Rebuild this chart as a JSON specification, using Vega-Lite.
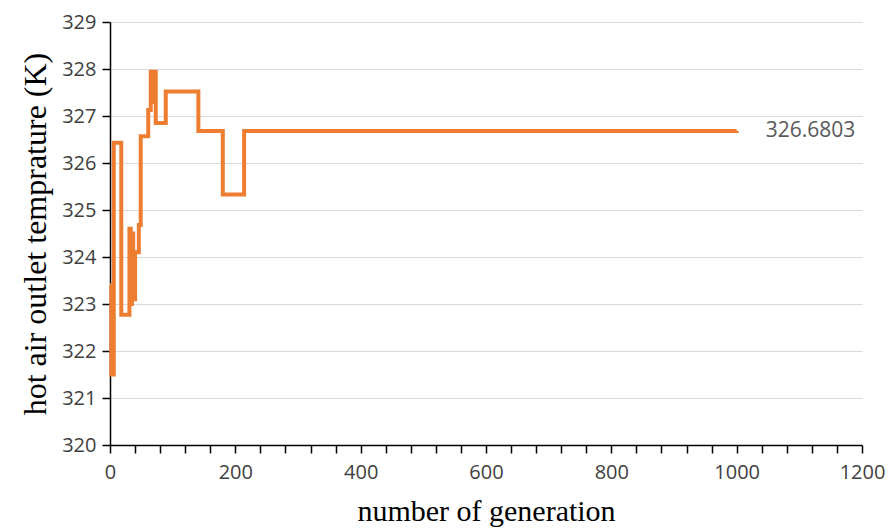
{
  "$schema": "https://vega.github.io/schema/vega-lite/v6.json",
  "width": 752,
  "height": 423,
  "autosize": "none",
  "padding": {"left": 110, "top": 22, "right": 32, "bottom": 87},
  "background": "white",
  "config": {"view": {"stroke": null}},
  "datasets": {
    "series": [
      {"gen": 0, "temp": 323.4},
      {"gen": 2, "temp": 321.5},
      {"gen": 6, "temp": 326.43},
      {"gen": 18, "temp": 322.77},
      {"gen": 31, "temp": 324.6},
      {"gen": 33, "temp": 323.0},
      {"gen": 35, "temp": 324.5},
      {"gen": 37, "temp": 323.1},
      {"gen": 40, "temp": 324.1},
      {"gen": 46, "temp": 324.68},
      {"gen": 49, "temp": 326.57},
      {"gen": 61, "temp": 327.13},
      {"gen": 65, "temp": 327.94},
      {"gen": 68, "temp": 327.3},
      {"gen": 70, "temp": 327.94},
      {"gen": 73, "temp": 326.85},
      {"gen": 89, "temp": 327.52},
      {"gen": 141, "temp": 326.68},
      {"gen": 180, "temp": 325.33},
      {"gen": 214, "temp": 326.68},
      {"gen": 1000, "temp": 326.6803}
    ],
    "label": [
      {"gen": 1000, "temp": 326.6803, "text": "326.6803"}
    ]
  },
  "layer": [
    {
      "data": {"name": "series"},
      "mark": {"type": "line", "interpolate": "step-after", "color": "#ED7D31", "strokeWidth": 4, "strokeJoin": "miter"},
      "encoding": {
        "x": {
          "field": "gen", "type": "quantitative",
          "scale": {"domain": [0, 1200], "nice": false},
          "axis": {
            "title": "number of generation",
            "titleFont": "Liberation Serif", "titleFontSize": 30, "titleFontWeight": "normal", "titleColor": "#000000", "titlePadding": 14,
            "values": [0,40,80,120,160,200,240,280,320,360,400,440,480,520,560,600,640,680,720,760,800,840,880,920,960,1000,1040,1080,1120,1160,1200],
            "tickCount": 100,
            "labelExpr": "datum.value % 200 == 0 ? datum.value : ''",
            "labelOverlap": false, "labelBound": false, "labelFlush": false,
            "labelFont": "Open Sans", "labelFontSize": 20, "labelColor": "#404040", "labelPadding": 9,
            "grid": false, "domainColor": "#000000", "domainWidth": 1.5,
            "tickColor": "#000000", "tickSize": 8, "tickWidth": 1.5
          }
        },
        "y": {
          "field": "temp", "type": "quantitative",
          "scale": {"domain": [320, 329], "nice": false, "zero": false},
          "axis": {
            "title": "hot air outlet temprature  (K)",
            "titleFont": "Liberation Serif", "titleFontSize": 32, "titleFontWeight": "normal", "titleColor": "#000000", "titlePadding": 9,
            "values": [320,321,322,323,324,325,326,327,328,329],
            "format": "d",
            "labelOverlap": false, "labelBound": false, "labelFlush": false,
            "labelFont": "Open Sans", "labelFontSize": 20, "labelColor": "#404040", "labelPadding": 6,
            "grid": true, "gridColor": "#d9d9d9", "gridWidth": 1.2,
            "domainColor": "#000000", "domainWidth": 1.5,
            "tickColor": "#000000", "tickSize": 8, "tickWidth": 1.5
          }
        }
      }
    },
    {
      "data": {"name": "label"},
      "mark": {"type": "text", "align": "left", "baseline": "middle", "dx": 29, "font": "Open Sans", "fontSize": 21, "color": "#595959"},
      "encoding": {
        "x": {"field": "gen", "type": "quantitative"},
        "y": {"field": "temp", "type": "quantitative"},
        "text": {"field": "text"}
      }
    }
  ]
}
